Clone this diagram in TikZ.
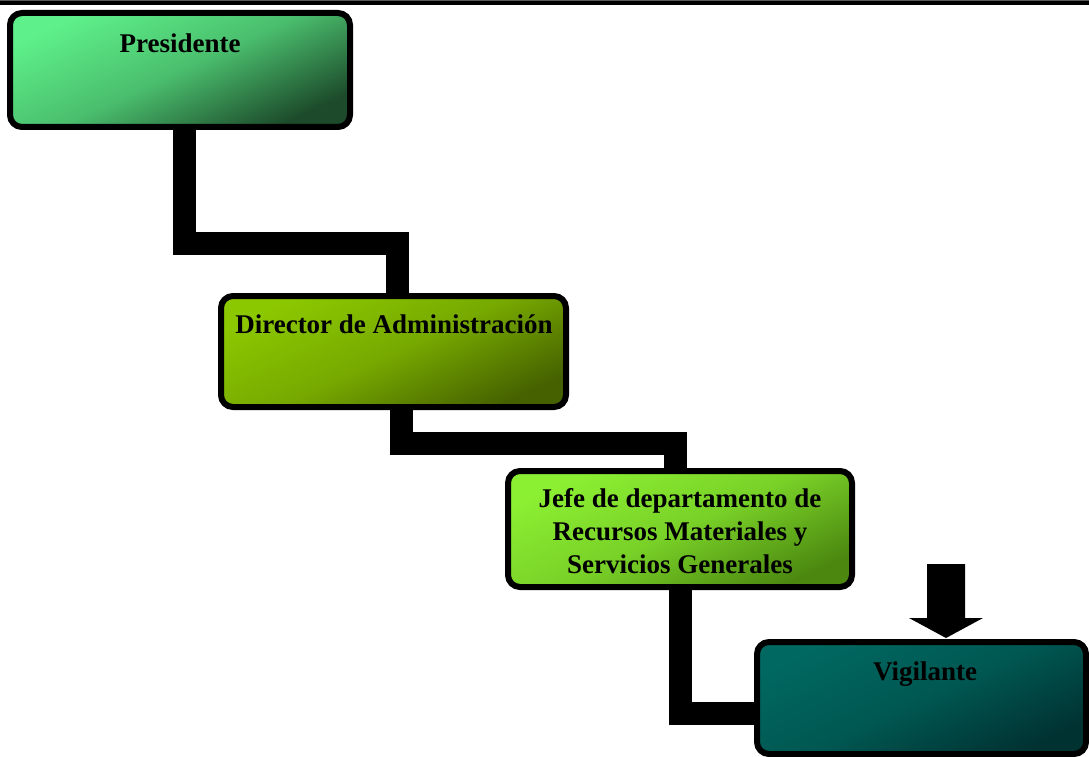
\documentclass[tikz,border=0pt]{standalone}
\usepackage{fontspec}
\setmainfont{Liberation Serif}
\usetikzlibrary{backgrounds}
\definecolor{presL}{RGB}{94,240,138}
\definecolor{presD}{RGB}{28,74,42}
\definecolor{dirL}{RGB}{140,200,0}
\definecolor{dirD}{RGB}{70,98,0}
\definecolor{jefeL}{RGB}{140,240,50}
\definecolor{jefeD}{RGB}{76,136,16}
\definecolor{vigL}{RGB}{0,104,96}
\definecolor{vigD}{RGB}{0,50,50}
\begin{document}
\begin{tikzpicture}[x=1pt,y=-1pt,
  box/.style n args={2}{draw=black, line width=6pt, rounded corners=12pt,
    inner sep=0pt, top color=#1, bottom color=#2,
    middle color=#1!70!#2, shading angle=25},
  lbl/.style={font=\fontsize{27}{33}\selectfont\bfseries, inner sep=0pt},
  conn/.style={draw=black, line width=23pt, line join=miter, line cap=butt}]
\useasboundingbox (0,0) rectangle (1089,757);
% rule across the top edge
\fill[black!65] (0,0) rectangle (1089,1.5);
\fill[black] (0,1.5) rectangle (1089,5);

% boxes
\node[box={presL}{presD}, minimum width=340pt, minimum height=114pt] (pres) at (180,70) {};
\node[box={dirL}{dirD}, minimum width=345pt, minimum height=111pt] (dir) at (393.5,351.5) {};
\node[box={jefeL}{jefeD}, minimum width=344pt, minimum height=116pt] (jefe) at (680,529) {};
\node[box={vigL}{vigD}, minimum width=329pt, minimum height=112pt] (vig) at (921.5,698) {};

% titles
\node[lbl, anchor=base] (tpres) at (180,53) {Presidente};
\node[lbl, anchor=base] (tdir) at (394,333) {Director de Administración};
\node[lbl, align=center] (tjefe) at (680,531) {Jefe de departamento de\\Recursos Materiales y\\Servicios Generales};
\node[lbl, anchor=base] (tvig) at (925,680) {Vigilante};

% elbow connectors behind the boxes
\coordinate (c1a) at (184.5,243.5);
\coordinate (c1b) at (397,243.5);
\coordinate (c2a) at (401.5,443.5);
\coordinate (c2b) at (675,443.5);
\coordinate (c3a) at (680,713);
\begin{scope}[on background layer]
  \draw[conn] (pres.south -| c1a) -- (c1a) -- (c1b) -- (dir.north -| c1b);
  \draw[conn] (dir.south -| c2a) -- (c2a) -- (c2b) -- (jefe.north -| c2b);
  \draw[conn] (jefe.south -| c3a) -- (c3a) -- (vig.west |- c3a);
\end{scope}

% block arrow pointing at Vigilante
\fill[black] (927,564) -- (965,564) -- (965,618) -- (983,618) -- (946,638)
  -- (909,618) -- (927,618) -- cycle;
\end{tikzpicture}
\end{document}
